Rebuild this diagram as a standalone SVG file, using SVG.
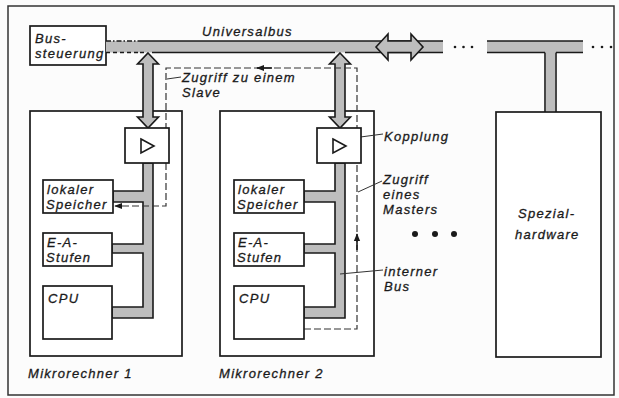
<svg xmlns="http://www.w3.org/2000/svg" width="619" height="398" viewBox="0 0 619 398">
<defs>
<style>
.bx{fill:#fff;stroke:#1a1a1a;stroke-width:1.7}
.ln{fill:none;stroke:#1a1a1a;stroke-width:1.6}
.bus{fill:#bdbdbd;stroke:#1a1a1a;stroke-width:1.6;stroke-linejoin:miter}
.gf{fill:#bdbdbd;stroke:none}
.ds{fill:none;stroke:#333;stroke-width:1.2;stroke-dasharray:7 3}
.lead{fill:none;stroke:#333;stroke-width:1}
text{font-family:"Liberation Sans",Arial,sans-serif;font-style:italic;font-size:13px;letter-spacing:1.3px;fill:#1a1a1a;stroke:#1a1a1a;stroke-width:0.3}
</style>
<marker id="ah" viewBox="0 0 10 10" refX="9" refY="5" markerWidth="8" markerHeight="8" markerUnits="userSpaceOnUse" orient="auto"><path d="M0,1 L10,5 L0,9 z" fill="#1a1a1a"/></marker>
</defs>
<rect x="0" y="0" width="619" height="398" fill="#fcfcfc"/>
<rect x="8" y="6" width="606" height="389" fill="none" stroke="#333" stroke-width="1.5"/>

<g id="mikrorechner1-frame"><rect class="bx" x="30" y="111" width="152" height="245"/><text x="28" y="378">Mikrorechner 1</text></g>
<g id="mikrorechner2-frame"><rect class="bx" x="220" y="111" width="154" height="245"/><text x="219" y="378">Mikrorechner 2</text></g>
<g id="spezialhardware"><rect class="bx" x="496" y="112" width="105" height="245"/><text x="518" y="218">Spezial-</text><text x="515" y="239">hardware</text></g>
<g id="bussteuerung"><rect class="bx" x="30" y="26" width="76" height="39"/><text x="35" y="43">Bus-</text><text x="35" y="58">steuerung</text></g>

<g id="connectors">
  <text x="202" y="36">Universalbus</text>
  <rect class="gf" x="106" y="41" width="337" height="11.5"/>
  <path class="ln" d="M106,41 H140" stroke-dasharray="5 2 1.5 2"/>
  <path class="ln" d="M106,52.5 H140" stroke-dasharray="4 3"/>
  <path class="ln" d="M140,41 H443 M140,52.5 H144 M152,52.5 H335 M345,52.5 H443"/>
  <rect class="gf" x="487" y="41" width="96" height="11.5"/>
  <path class="ln" d="M487,41 H583 M487,52.5 H545 M556,52.5 H583"/>
  <rect class="gf" x="546" y="52" width="9" height="59"/>
  <path class="ln" d="M545,52.5 V112 M556,52.5 V112"/>
  <g fill="#1a1a1a"><circle cx="455" cy="47" r="1.3"/><circle cx="463.5" cy="47" r="1.3"/><circle cx="472" cy="47" r="1.3"/><circle cx="593" cy="47" r="1.3"/><circle cx="602" cy="47" r="1.3"/><circle cx="611" cy="47" r="1.3"/></g>
  <path class="bus" d="M376,47 L388,34 V41 H411 V34 L423,47 L411,60 V52.5 H388 V60 Z"/>
  <path class="bus" d="M148,53 L158.5,64 H153 V117 H158.5 L148,128 L137.5,117 H143 V64 H137.5 Z"/>
  <path class="bus" d="M340,53 L350.5,64 H345 V117 H350.5 L340,128 L329.5,117 H335 V64 H329.5 Z"/>
  <path class="bus" d="M153,163 V318 H112 V307 H143 V253 H112 V244 H143 V202 H113 V191 H143 V163 Z"/>
  <path class="bus" d="M345,163 V318 H304 V307 H335 V253 H304 V244 H335 V202 H304 V191 H335 V163 Z"/>
  <path class="ds" d="M304,329 H357 V68 H166 V206 H115" marker-end="url(#ah)"/>
  <path class="ln" d="M272,68 H257" stroke-width="1.8" marker-end="url(#ah)"/>
  <path class="ln" d="M357,250 V234" stroke-width="1.8" marker-end="url(#ah)"/>
  <path class="lead" d="M167,79 L181,77"/>
  <path class="lead" d="M353,138 L383,134"/>
  <path class="lead" d="M358,192 L382,181"/>
  <path class="lead" d="M340,274 L383,270"/>
  <text x="182" y="82">Zugriff zu einem</text>
  <text x="182" y="97">Slave</text>
  <text x="384" y="141">Kopplung</text>
  <text x="383" y="184">Zugriff</text>
  <text x="383" y="199">eines</text>
  <text x="383" y="214">Masters</text>
  <text x="384" y="276">interner</text>
  <text x="384" y="291">Bus</text>
  <g fill="#1a1a1a"><circle cx="415" cy="234" r="3"/><circle cx="435" cy="234" r="3"/><circle cx="454" cy="234" r="3"/></g>
</g>

<g id="kopplung1"><rect class="bx" x="125" y="128" width="44" height="35"/><path class="ln" d="M141,139 L154,146 L141,153 Z"/></g>
<g id="kopplung2"><rect class="bx" x="317" y="128" width="44" height="35"/><path class="ln" d="M333,139 L346,146 L333,153 Z"/></g>
<g id="speicher1"><rect class="bx" x="43" y="180" width="70" height="33"/><text x="47" y="194">lokaler</text><text x="46" y="209">Speicher</text></g>
<g id="ea1"><rect class="bx" x="43" y="233" width="69" height="33"/><text x="47" y="247">E-A-</text><text x="46" y="262">Stufen</text></g>
<g id="cpu1"><rect class="bx" x="43" y="286" width="69" height="53"/><text x="48" y="303">CPU</text></g>
<g id="speicher2"><rect class="bx" x="234" y="180" width="70" height="33"/><text x="238" y="194">lokaler</text><text x="237" y="209">Speicher</text></g>
<g id="ea2"><rect class="bx" x="234" y="233" width="70" height="33"/><text x="238" y="247">E-A-</text><text x="237" y="262">Stufen</text></g>
<g id="cpu2"><rect class="bx" x="234" y="286" width="70" height="53"/><text x="239" y="303">CPU</text></g>
</svg>
